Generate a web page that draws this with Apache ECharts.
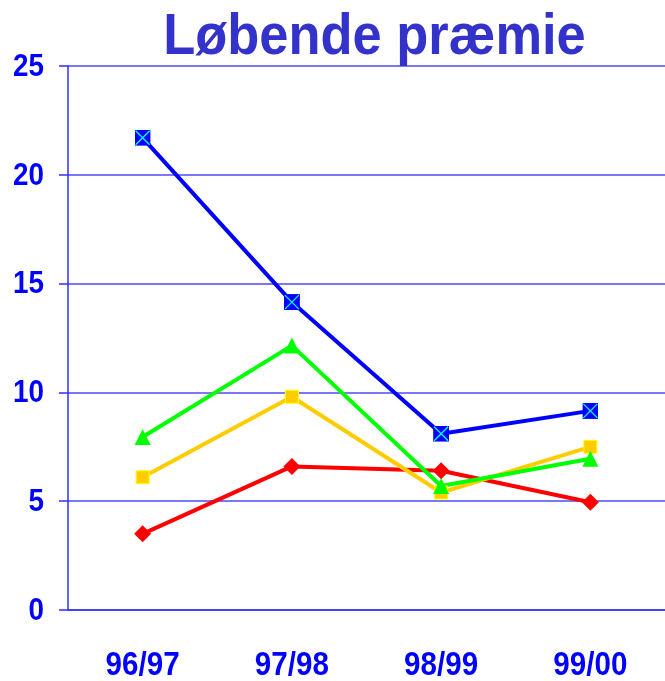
<!DOCTYPE html>
<html>
<head>
<meta charset="utf-8">
<script src="https://cdn.jsdelivr.net/npm/echarts@6/dist/echarts.min.js"></script>
<style>html,body{margin:0;padding:0;background:#fff;overflow:hidden;}#c{width:665px;height:681px;}</style>
</head>
<body>
<div id="c"></div>
<script>
const categories = ['96/97', '97/98', '98/99', '99/00'];
const blueValues = [21.7, 14.15, 8.1, 9.15];
const greenValues = [7.95, 12.15, 5.7, 6.95];
const yellowValues = [6.1, 9.8, 5.4, 7.5];
const redValues = [3.5, 6.6, 6.4, 4.95];
const yTickValues = [0, 5, 10, 15, 20, 25];
const titleText = 'Løbende præmie';

const blueSym = 'image://data:image/svg+xml;utf8,' + encodeURIComponent(
  '<svg xmlns="http://www.w3.org/2000/svg" width="16" height="16"><rect x="0" y="0" width="16" height="16" fill="#0000ff"/><path d="M1 1L15 15M15 1L1 15" stroke="#00ffff" stroke-width="1.3"/></svg>');

const chart = echarts.init(document.getElementById('c'));
const font = 'Liberation Sans, Arial, sans-serif';
chart.setOption({
  animation: false,
  backgroundColor: '#ffffff',
  grid: { left: 68, top: 66, width: 600, height: 544 },
  xAxis: {
    type: 'category', data: categories, boundaryGap: true,
    axisLine: { lineStyle: { color: '#3030ff', width: 1.5 } },
    axisTick: { length: 12, lineStyle: { color: '#3030ff', width: 1.5 } },
    axisLabel: { show: false }
  },
  yAxis: {
    type: 'value', min: yTickValues[0], max: yTickValues[yTickValues.length - 1], interval: yTickValues[1] - yTickValues[0],
    axisLine: { show: true, lineStyle: { color: '#3030ff', width: 1.5 } },
    axisTick: { show: true, length: 9, lineStyle: { color: '#3030ff', width: 1.5 } },
    splitLine: { lineStyle: { color: '#4d4df5', width: 1.5 } },
    axisLabel: { show: false }
  },
  series: [
    { type: 'line', data: redValues, symbol: 'diamond', symbolSize: [17, 17],
      lineStyle: { color: '#ff0000', width: 4 }, itemStyle: { color: '#ff0000' } },
    { type: 'line', data: yellowValues, symbol: 'rect', symbolSize: 13,
      lineStyle: { color: '#ffcc00', width: 4 }, itemStyle: { color: '#ffcc00', borderColor: '#ffff00', borderWidth: 1 } },
    { type: 'line', data: greenValues, symbol: 'triangle', symbolSize: 16,
      lineStyle: { color: '#00ff00', width: 4 }, itemStyle: { color: '#00ff00' } },
    { type: 'line', data: blueValues, symbol: blueSym, symbolSize: 16,
      lineStyle: { color: '#0000ff', width: 4 }, itemStyle: { color: '#0000ff' } }
  ]
});

// Condensed bold labels (narrow face not installed): real text, horizontally scaled,
// positioned through the chart's own axes.
const graphics = [];
graphics.push({
  type: 'text', x: 374.5, y: 38, scaleX: 0.92,
  style: { text: titleText, font: 'bold 57px ' + font, fill: '#3333cc', textAlign: 'center', textVerticalAlign: 'middle' }
});
const xAxisY = chart.convertToPixel({ yAxisIndex: 0 }, 0);
categories.forEach(function (c) {
  const px = chart.convertToPixel({ xAxisIndex: 0 }, c);
  graphics.push({
    type: 'text', x: px, y: xAxisY + 56, scaleX: 0.87,
    style: { text: c, font: 'bold 34px ' + font, fill: '#0000ff', textAlign: 'center', textVerticalAlign: 'middle' }
  });
});
yTickValues.forEach(function (v) {
  const py = chart.convertToPixel({ yAxisIndex: 0 }, v);
  graphics.push({
    type: 'text', x: 44, y: py + 1, scaleX: 0.87,
    style: { text: String(v), font: 'bold 32px ' + font, fill: '#0000ff', textAlign: 'right', textVerticalAlign: 'middle' }
  });
});
chart.setOption({ graphic: graphics });
</script>
</body>
</html>
